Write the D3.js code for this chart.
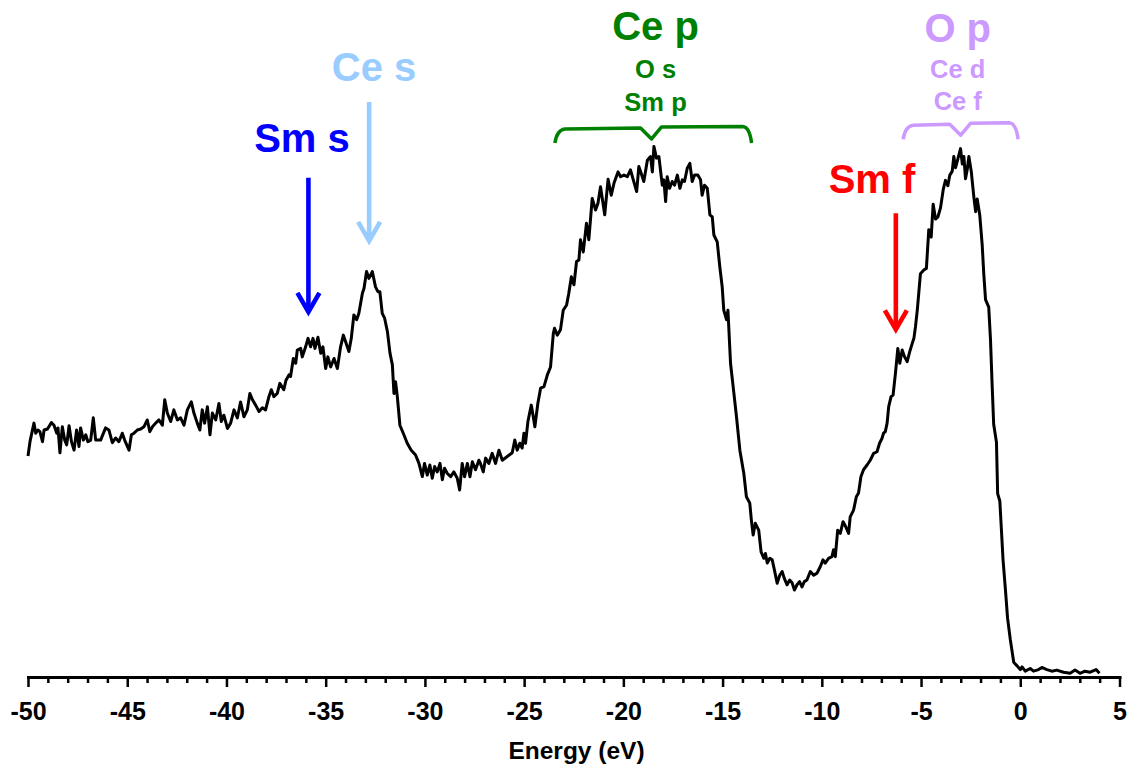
<!DOCTYPE html>
<html><head><meta charset="utf-8">
<script src="https://cdn.jsdelivr.net/npm/d3@7"></script>
<style>
body{margin:0;background:#fff}
svg{display:block}
text{font-family:Arial,"Liberation Sans",sans-serif;font-weight:bold}
</style>
</head><body>
<svg id="chart" width="1131" height="769"></svg>
<script>
// ---------------- DATA ----------------
const energy = [
-50.00,-49.90,-49.70,-49.61,-49.50,-49.40,-49.27,-49.19,-49.02,-48.82,-48.69,-48.55,-48.49,-48.39,-48.27,-48.15,-48.05,-47.93,-47.81,-47.68,
-47.55,-47.43,-47.35,-47.21,-47.09,-46.98,-46.84,-46.71,-46.59,-46.34,-46.09,-45.92,-45.75,-45.58,-45.42,-45.25,-45.13,-44.91,-44.79,-44.66,
-44.49,-44.32,-44.16,-43.99,-43.86,-43.73,-43.57,-43.40,-43.23,-43.11,-42.98,-42.81,-42.65,-42.47,-42.31,-42.14,-41.97,-41.77,-41.64,-41.47,
-41.34,-41.22,-41.10,-40.96,-40.83,-40.71,-40.54,-40.38,-40.26,-40.13,-39.95,-39.79,-39.62,-39.45,-39.29,-39.12,-38.95,-38.82,-38.69,-38.53,
-38.36,-38.19,-38.03,-37.86,-37.74,-37.61,-37.44,-37.31,-37.11,-37.00,
-36.85,-36.77,-36.63,-36.51,-36.43,-36.26,-36.18,-36.01,-35.89,-35.76,-35.64,-35.54,-35.39,-35.25,-35.14,-35.00,-34.89,-34.75,-34.58,-34.41,
-34.25,-34.11,-34.00,-33.83,-33.71,-33.58,-33.44,-33.33,-33.15,-33.07,-32.94,-32.82,-32.65,-32.49,-32.37,-32.27,-32.15,-32.03,-31.89,-31.76,
-31.64,-31.56,-31.48,-31.39,-31.26,-31.06,-30.89,-30.69,-30.47,-30.30,-30.13,-30.02,-29.88,-29.75,-29.63,-29.51,-29.38,-29.24,-29.12,-29.01,
-28.87,-28.70,-28.54,-28.37,-28.25,-28.12,-28.00,-27.86,-27.73,-27.61,-27.45,-27.28,
-27.20,-27.06,-26.94,-26.78,-26.61,-26.44,-26.27,-26.10,-25.85,-25.60,-25.47,-25.35,-25.22,-25.10,-25.01,-24.93,-24.81,-24.64,-24.54,-24.46,
-24.31,-24.17,-24.00,-23.83,-23.67,-23.53,-23.47,-23.33,-23.17,-23.03,-22.86,-22.75,-22.62,-22.49,-22.36,-22.24,-22.16,-22.02,-21.86,-21.74,
-21.57,-21.40,-21.28,-21.15,-20.94,-20.77,-20.61,-20.47,-20.27,-20.14,-19.97,-19.80,-19.64,-19.50,-19.33,-19.22,-19.10,-18.97,-18.79,-18.63,
-18.54,-18.46,-18.33,-18.21,-18.04,-17.96,-17.87,-17.79,-17.67,-17.54,-17.42,-17.28,-17.15,-17.03,-16.92,-16.78,-16.65,-16.53,-16.41,-16.25,
-16.11,-16.03,-15.91,-15.77,-15.64,-15.52,-15.44,-15.27,-15.14,-15.02,-14.94,-14.80,-14.73,-14.60,-14.43,-14.30,-14.13,-13.93,-13.80,-13.63,
-13.55,-13.46,-13.35,-13.18,-13.06,-12.92,-12.84,-12.75,-12.62,-12.50,-12.39,-12.25,-12.12,-12.00,-11.89,-11.75,-11.62,-11.50,-11.38,-11.25,
-11.12,-11.00,-10.88,-10.75,-10.58,-10.41,-10.24,-10.08,-9.94,-9.83,-9.66,-9.49,-9.41,-9.32,-9.20,-9.07,-8.93,-8.80,-8.65,-8.57,
-8.40,-8.26,-8.15,-8.03,-7.90,-7.72,-7.56,-7.39,-7.22,-7.09,-6.97,-6.89,-6.80,-6.71,-6.63,-6.51,-6.41,-6.29,-6.17,-6.07,
-5.95,-5.83,-5.70,-5.57,-5.44,-5.36,-5.28,-5.19,
-5.03,-4.86,-4.73,-4.61,-4.49,-4.39,-4.27,-4.15,-4.02,-3.88,-3.77,-3.65,-3.55,-3.43,-3.35,-3.26,-3.14,-3.01,-2.92,-2.84,
-2.76,-2.67,-2.59,-2.47,-2.34,-2.25,-2.17,-2.04,-1.92,-1.84,-1.75,-1.59,-1.50,-1.42,-1.34,-1.20,-1.14,-1.03,-0.97,-0.87,
-0.75,-0.64,-0.50,-0.33,-0.16,0.00,0.09,0.25,0.50,0.67,0.92,1.09,1.34,1.59,1.84,2.18,2.51,2.76,3.01,3.26,
3.52,3.82,3.99
];
const intensity = [
41.7,44.4,47.9,46.0,46.6,46.3,44.4,46.6,46.8,48.0,47.5,46.0,47.0,42.3,47.2,44.7,43.8,47.4,44.4,42.8,
46.6,43.5,47.0,44.7,45.7,44.4,44.7,48.9,44.7,44.7,47.0,46.6,44.2,45.1,44.4,46.0,44.7,42.8,45.7,46.0,
46.6,46.8,47.2,48.5,46.3,47.2,47.9,48.5,47.5,52.3,49.8,48.2,50.4,48.5,48.9,47.5,50.4,51.9,49.8,47.9,
46.6,50.4,47.9,51.0,45.7,49.8,48.5,51.6,48.2,49.4,46.9,47.9,50.4,48.9,51.9,49.1,50.4,53.5,52.3,51.3,
50.1,50.8,50.4,52.9,54.2,52.9,53.5,55.4,54.2,56.0,
57.0,56.7,60.1,59.2,61.7,62.0,60.4,62.3,63.9,62.3,63.9,62.0,64.1,61.1,62.3,58.2,60.4,58.5,60.1,58.2,
62.3,64.5,63.3,61.4,63.9,68.3,67.4,68.6,72.4,73.3,76.5,75.2,76.5,73.6,72.7,72.7,68.6,67.7,65.2,61.1,
58.9,53.5,55.7,52.9,47.5,45.7,44.1,42.8,41.9,40.3,37.8,40.3,38.1,40.0,37.5,39.7,38.7,40.3,37.2,39.4,
38.4,37.8,38.7,37.5,35.3,40.3,37.8,40.3,37.8,40.6,39.1,40.9,
40.3,38.7,41.3,40.3,42.2,40.3,42.8,40.9,41.6,42.3,44.7,42.8,44.1,43.2,46.0,44.1,48.2,51.3,49.1,47.2,
51.6,54.5,54.8,57.0,58.5,64.8,65.8,64.5,65.5,69.2,70.2,72.4,75.5,74.0,78.4,78.7,82.5,80.2,85.6,82.5,
90.3,88.1,89.4,92.5,87.2,93.9,90.9,93.2,95.3,94.4,94.7,94.4,95.7,93.8,91.6,96.3,95.0,93.5,97.5,98.2,
95.3,100.1,97.9,98.2,92.8,93.8,89.7,94.4,92.2,93.5,92.8,94.7,92.2,93.8,93.5,96.0,96.9,93.5,94.7,94.7,
93.8,90.9,92.8,92.2,87.2,86.8,83.4,82.1,77.4,73.6,69.2,67.4,69.2,59.2,53.5,49.1,42.8,38.4,34.0,32.8,
29.6,26.8,29.0,27.7,23.6,22.4,23.3,21.5,22.4,22.1,20.2,17.7,19.2,19.9,18.6,17.4,18.3,17.8,16.4,17.4,
18.0,17.0,18.0,18.3,19.9,19.2,19.6,20.8,22.1,21.5,22.4,22.7,24.0,22.7,27.7,27.1,29.3,28.4,27.1,30.2,
31.5,34.0,34.7,37.8,39.1,40.0,40.9,42.2,42.5,44.1,45.0,46.0,46.3,47.9,51.0,52.9,53.2,57.3,62.0,59.2,
61.7,60.4,59.5,61.4,63.0,63.9,66.1,69.2,
76.1,76.8,77.1,84.4,83.0,89.2,86.4,86.8,88.5,92.0,93.7,92.7,94.7,95.4,98.2,96.1,97.8,99.7,96.8,98.2,
94.0,95.8,98.2,95.4,90.6,87.8,90.2,87.1,81.6,76.1,71.2,69.8,63.6,55.3,47.7,44.3,34.6,33.2,29.1,22.2,
16.6,11.1,7.0,2.8,2.1,1.4,1.9,1.1,1.6,1.1,1.4,1.8,1.4,1.1,1.3,0.9,0.7,1.3,0.7,1.1,
0.9,1.4,0.7
];
const majorTicks = [-50,-45,-40,-35,-30,-25,-20,-15,-10,-5,0,5];
const majorTickLabels = ["-50","-45","-40","-35","-30","-25","-20","-15","-10","-5","0","5"];
const minorTicks = d3.range(-50,6,1).filter(v => v % 5 !== 0);
const axisTitle = "Energy (eV)";

// arrows: label, energy position, arrow top / tip in intensity units
const arrowLabels = ["Sm s","Ce s","Sm f"];
const arrowEnergy = [-35.87,-32.81,-6.27];
const arrowTop = [94.2,108.5,87.5];
const arrowTip = [68.5,81.9,65.2];
// braces: energy span
const braceTitles = ["Ce p","O p"];
const braceSub = [["O s","Sm p"],["Ce d","Ce f"]];
const braceStart = [-23.45,-5.90];
const braceEnd = [-13.54,-0.11];
const braceMid = [-18.58,-3.0];
const braceLevel = [103.6,104.3];

// ---------------- LAYOUT / STYLE ----------------
const svg = d3.select("#chart");
const x = d3.scaleLinear().domain([-50,5]).range([28,1119.5]);
const y = d3.scaleLinear().domain([0,100]).range([677,147]);
const arrowColors = ["#0000FF","#99CCFF","#FF0000"];
const braceColors = ["#008000","#CC99FF"];

// curve
const pts = energy.map((e,i)=>[e,intensity[i]]);
svg.append("path")
  .datum(pts)
  .attr("fill","none")
  .attr("stroke","#000")
  .attr("stroke-width",3)
  .attr("stroke-linejoin","round")
  .attr("d", d3.line().x(d=>x(d[0])).y(d=>y(d[1])));

// axis
const axisY = 677;
const gMinor = svg.append("g").attr("transform",`translate(0,${axisY})`)
  .call(d3.axisBottom(x).tickValues(minorTicks).tickSize(6).tickSizeOuter(0).tickFormat(""));
gMinor.select(".domain").remove();
gMinor.selectAll("line").attr("stroke","#000").attr("stroke-width",2.5);

const gMajor = svg.append("g").attr("transform",`translate(0,${axisY})`)
  .call(d3.axisBottom(x).tickValues(majorTicks).tickSize(10).tickSizeOuter(0)
    .tickFormat((d,i)=>majorTickLabels[i]));
gMajor.select(".domain").attr("stroke","#000").attr("stroke-width",3).attr("stroke-linecap","square");
gMajor.selectAll(".tick line").attr("stroke","#000").attr("stroke-width",2.5);
gMajor.selectAll(".tick text")
  .attr("y",43).attr("dy",null)
  .attr("fill","#000")
  .style("font-size","25px")
  .style("font-family","Arial, 'Liberation Sans', sans-serif")
  .style("font-weight","bold");

svg.append("text")
  .attr("x",576.5).attr("y",759)
  .attr("text-anchor","middle")
  .style("font-size","24.5px")
  .text(axisTitle);

// arrows
arrowLabels.forEach((lab,i)=>{
  const ax = x(arrowEnergy[i]);
  const y0 = y(arrowTop[i]), y1 = y(arrowTip[i]);
  const g = svg.append("g").attr("stroke",arrowColors[i]).attr("fill","none").attr("stroke-width",4.6);
  g.append("line").attr("x1",ax).attr("x2",ax).attr("y1",y0).attr("y2",y1-2);
  g.append("polyline").attr("points",`${ax-11},${y1-21} ${ax},${y1-2} ${ax+11},${y1-21}`)
    .attr("stroke-linejoin","miter");
});
const arrowLabelX = [302,374,872];
const arrowLabelY = [152,80.5,192.5];
arrowLabels.forEach((lab,i)=>{
  svg.append("text").attr("x",arrowLabelX[i]).attr("y",arrowLabelY[i]).attr("text-anchor","middle")
    .attr("fill",arrowColors[i]).style("font-size","40px").text(lab);
});

// braces
const braceTextDx = [4,-3];
const braceTextDy = [[-88,-50,-17],[-82.5,-46,-14]];
braceTitles.forEach((t,i)=>{
  const x0 = x(braceStart[i]), x1 = x(braceEnd[i]), xm = x(braceMid[i]);
  const yt = y(braceLevel[i]);
  const p = d3.path();
  p.moveTo(x0, yt+15);
  p.quadraticCurveTo(x0+2, yt+2, x0+10, yt+1);
  p.lineTo(xm-11, yt);
  p.lineTo(xm, yt+11);
  p.lineTo(xm+10, yt-1);
  p.lineTo(x1-9, yt-1.5);
  p.quadraticCurveTo(x1-2, yt-1, x1, yt+15);
  svg.append("path").attr("d",p.toString()).attr("fill","none")
    .attr("stroke",braceColors[i]).attr("stroke-width",3.5).attr("stroke-linejoin","round");
  const cx = xm + braceTextDx[i];
  svg.append("text").attr("x",cx).attr("y",yt+braceTextDy[i][0]).attr("text-anchor","middle")
    .attr("fill",braceColors[i]).style("font-size","40px").text(t);
  svg.append("text").attr("x",cx).attr("y",yt+braceTextDy[i][1]).attr("text-anchor","middle")
    .attr("fill",braceColors[i]).style("font-size","25.5px").text(braceSub[i][0]);
  svg.append("text").attr("x",cx).attr("y",yt+braceTextDy[i][2]).attr("text-anchor","middle")
    .attr("fill",braceColors[i]).style("font-size","25.5px").text(braceSub[i][1]);
});
</script>
</body></html>
